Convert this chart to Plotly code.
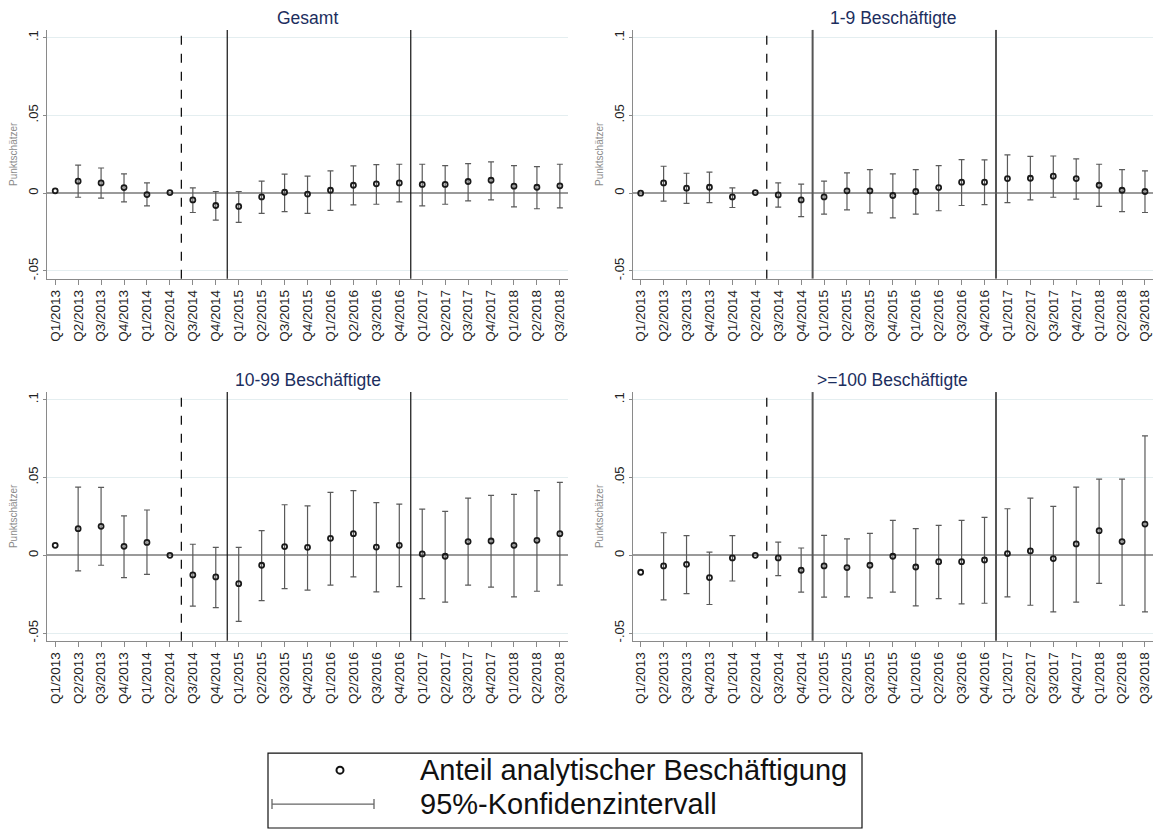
import plotly.graph_objects as go

quarters = ["Q1/2013", "Q2/2013", "Q3/2013", "Q4/2013",
            "Q1/2014", "Q2/2014", "Q3/2014", "Q4/2014",
            "Q1/2015", "Q2/2015", "Q3/2015", "Q4/2015",
            "Q1/2016", "Q2/2016", "Q3/2016", "Q4/2016",
            "Q1/2017", "Q2/2017", "Q3/2017", "Q4/2017",
            "Q1/2018", "Q2/2018", "Q3/2018"]

titles = ["Gesamt", "1-9 Beschäftigte", "10-99 Beschäftigte", ">=100 Beschäftigte"]

# Gesamt
est_gesamt = [0.0015, 0.0077, 0.0066, 0.0036, -0.0009, 0.0004, -0.0043, -0.0079, -0.0085, -0.0024,
              0.0006, -0.0006, 0.0019, 0.0051, 0.0060, 0.0066, 0.0056, 0.0056, 0.0075, 0.0083,
              0.0045, 0.0038, 0.0047]
hi_gesamt = [None, 0.0180, 0.0162, 0.0124, 0.0066, None, 0.0034, 0.0011, 0.0011, 0.0077,
             0.0122, 0.0109, 0.0143, 0.0175, 0.0184, 0.0186, 0.0186, 0.0177, 0.0190, 0.0201,
             0.0177, 0.0171, 0.0186]
lo_gesamt = [None, -0.0026, -0.0032, -0.0056, -0.0081, None, -0.0124, -0.0173, -0.0188, -0.0130,
             -0.0118, -0.0130, -0.0111, -0.0075, -0.0071, -0.0056, -0.0081, -0.0071, -0.0049, -0.0043,
             -0.0088, -0.0100, -0.0094]

# 1-9 Beschäftigte
est_1_9 = [0.0000, 0.0066, 0.0032, 0.0038, -0.0024, 0.0004, -0.0011, -0.0043, -0.0024, 0.0015,
           0.0015, -0.0015, 0.0011, 0.0036, 0.0071, 0.0071, 0.0094, 0.0096, 0.0109, 0.0094,
           0.0051, 0.0019, 0.0011]
hi_1_9 = [None, 0.0173, 0.0128, 0.0135, 0.0034, None, 0.0066, 0.0058, 0.0077, 0.0130,
          0.0152, 0.0124, 0.0152, 0.0177, 0.0216, 0.0214, 0.0246, 0.0237, 0.0239, 0.0220,
          0.0186, 0.0152, 0.0143]
lo_1_9 = [None, -0.0051, -0.0066, -0.0060, -0.0092, None, -0.0090, -0.0150, -0.0135, -0.0107,
          -0.0126, -0.0158, -0.0135, -0.0113, -0.0079, -0.0073, -0.0060, -0.0043, -0.0026, -0.0038,
          -0.0085, -0.0118, -0.0124]

# 10-99 Beschäftigte
est_10_99 = [0.0064, 0.0171, 0.0186, 0.0058, 0.0083, 0.0000, -0.0126, -0.0139, -0.0182, -0.0064,
             0.0056, 0.0051, 0.0109, 0.0139, 0.0053, 0.0064, 0.0009, -0.0006, 0.0088, 0.0092,
             0.0064, 0.0096, 0.0139]
hi_10_99 = [None, 0.0438, 0.0436, 0.0254, 0.0291, None, 0.0071, 0.0051, 0.0051, 0.0158,
            0.0325, 0.0318, 0.0404, 0.0415, 0.0338, 0.0329, 0.0297, 0.0282, 0.0368, 0.0385,
            0.0391, 0.0415, 0.0468]
lo_10_99 = [None, -0.0100, -0.0064, -0.0143, -0.0122, None, -0.0327, -0.0336, -0.0425, -0.0291,
            -0.0214, -0.0224, -0.0192, -0.0139, -0.0235, -0.0201, -0.0278, -0.0301, -0.0192, -0.0205,
            -0.0267, -0.0231, -0.0192]

# >=100 Beschäftigte
est_100 = [-0.0109, -0.0068, -0.0058, -0.0143, -0.0017, 0.0000, -0.0017, -0.0096, -0.0068, -0.0079,
           -0.0064, -0.0006, -0.0075, -0.0041, -0.0041, -0.0030, 0.0011, 0.0028, -0.0021, 0.0073,
           0.0158, 0.0088, 0.0201]
hi_100 = [None, 0.0145, 0.0126, 0.0021, 0.0126, None, 0.0085, 0.0047, 0.0128, 0.0105,
          0.0141, 0.0224, 0.0171, 0.0192, 0.0224, 0.0244, 0.0299, 0.0368, 0.0314, 0.0438,
          0.0489, 0.0489, 0.0767]
lo_100 = [None, -0.0286, -0.0246, -0.0316, -0.0165, None, -0.0130, -0.0237, -0.0269, -0.0267,
          -0.0274, -0.0237, -0.0325, -0.0278, -0.0312, -0.0308, -0.0267, -0.0321, -0.0363, -0.0301,
          -0.0180, -0.0321, -0.0363]

panels = [(est_gesamt, lo_gesamt, hi_gesamt),
          (est_1_9, lo_1_9, hi_1_9),
          (est_10_99, lo_10_99, hi_10_99),
          (est_100, lo_100, hi_100)]

ytick_vals = [-0.05, 0, 0.05, 0.1]
ytick_text = ["-.05", "0", ".05", ".1"]
dashed_line_pos = [5.5]
solid_line_pos = [7.5, 15.5]
legend_labels = ["Anteil analytischer Beschäftigung", "95%-Konfidenzintervall"]

W, H = 1153, 831
FONT = "Arial, Liberation Sans, sans-serif"

# plot areas in pixels (left, right, top, bottom)
areas = [(47.4, 567.9, 30, 279.3), (632.9, 1153, 30, 279.3),
         (47.4, 567.9, 393, 642.3), (632.9, 1153, 393, 642.3)]

fig = go.Figure()
layout = dict(width=W, height=H, margin=dict(l=0, r=0, t=0, b=0),
              paper_bgcolor="white", plot_bgcolor="white", showlegend=False,
              font=dict(family=FONT, color="#222"))
shapes = []
annotations = []

for i, ((est, lo, hi), (l, r, t, b)) in enumerate(zip(panels, areas)):
    n = i + 1
    xa = "x" if n == 1 else f"x{n}"
    ya = "y" if n == 1 else f"y{n}"
    xk = "xaxis" if n == 1 else f"xaxis{n}"
    yk = "yaxis" if n == 1 else f"yaxis{n}"
    right_side = (i % 2 == 1)

    # CI traces (only where CI exists)
    cx = [q for q, h in zip(quarters, hi) if h is not None]
    cy = [e for e, h in zip(est, hi) if h is not None]
    cup = [h - e for e, h in zip(est, hi) if h is not None]
    cdn = [e - lo_ for e, lo_, h in zip(est, lo, hi) if h is not None]
    fig.add_trace(go.Scatter(x=cx, y=cy, mode="markers", xaxis=xa, yaxis=ya,
                             marker=dict(size=1, color="rgba(0,0,0,0)"),
                             error_y=dict(type="data", symmetric=False, array=cup, arrayminus=cdn,
                                          color="#5a5a5a", thickness=1.2, width=3),
                             hoverinfo="skip"))
    fig.add_trace(go.Scatter(x=quarters, y=est, mode="markers", xaxis=xa, yaxis=ya,
                             marker=dict(symbol="circle-open", size=5, color="#1a1a1a",
                                         line=dict(width=1.8, color="#1a1a1a"))))

    layout[xk] = dict(domain=[l / W, r / W], anchor=ya, type="category",
                      categoryorder="array", categoryarray=quarters,
                      range=[-0.34, 22.35], showgrid=False, zeroline=False,
                      showline=True, linecolor="#8a8a8a", linewidth=1,
                      ticks="outside", ticklen=5, tickcolor="#8a8a8a",
                      tickangle=-90, tickfont=dict(size=13.5, color="#222", family=FONT))
    layout[yk] = dict(domain=[1 - b / H, 1 - t / H], anchor=xa,
                      range=[-0.0549, 0.1049], tickvals=ytick_vals, ticktext=ytick_text,
                      showgrid=True, gridcolor="#e4eef0", gridwidth=1,
                      zeroline=True, zerolinecolor="#9a9a9a", zerolinewidth=1.5,
                      showline=True, linecolor="#8a8a8a", linewidth=1,
                      ticks="outside", ticklen=3, tickcolor="#8a8a8a",
                      tickangle=-90, tickfont=dict(size=13, color="#222", family=FONT),
                      title=dict(text="Punktschätzer", font=dict(size=10, color="#8c8c8c", family=FONT),
                                 standoff=6))

    vcol = "#555555" if right_side else "#111111"
    vw = 2 if right_side else 1.2
    for xv in dashed_line_pos:
        shapes.append(dict(type="line", xref=xa, yref=f"{ya} domain", x0=xv, x1=xv, y0=0, y1=1,
                           line=dict(color="#111111", width=1.3, dash="dash")))
    for xv in solid_line_pos:
        shapes.append(dict(type="line", xref=xa, yref=f"{ya} domain", x0=xv, x1=xv, y0=0, y1=1,
                           line=dict(color=vcol, width=vw)))

    title_y = 18 if i < 2 else 381
    annotations.append(dict(text=titles[i], x=(l + r) / 2 / W, y=1 - title_y / H,
                            xref="paper", yref="paper", xanchor="center", yanchor="middle",
                            showarrow=False, font=dict(size=17.5, color="#1c2e5e", family=FONT)))

# Legend drawn on its own helper axes
lx0, lx1, ly0, ly1 = 268, 862, 755, 830
layout["xaxis5"] = dict(domain=[lx0 / W, lx1 / W], anchor="y5", range=[0, lx1 - lx0],
                        visible=False, fixedrange=True)
layout["yaxis5"] = dict(domain=[1 - ly1 / H, 1 - ly0 / H], anchor="x5", range=[ly1 - ly0, 0],
                        visible=False, fixedrange=True)
fig.add_trace(go.Scatter(x=[72], y=[17], xaxis="x5", yaxis="y5", mode="markers",
                         marker=dict(symbol="circle-open", size=7, color="#111",
                                     line=dict(width=2, color="#111")), hoverinfo="skip"))
fig.add_trace(go.Scatter(x=[55], y=[51], xaxis="x5", yaxis="y5", mode="markers",
                         marker=dict(size=1, color="rgba(0,0,0,0)"),
                         error_x=dict(type="constant", value=51, color="#666", thickness=1.3, width=5),
                         hoverinfo="skip"))
shapes.append(dict(type="rect", xref="x5 domain", yref="y5 domain", x0=0, x1=1, y0=0, y1=1,
                   line=dict(color="#111", width=1.2)))
for k, (lab, yy) in enumerate(zip(legend_labels, [17, 51])):
    annotations.append(dict(text=lab, x=150, y=yy, xref="x5", yref="y5", xanchor="left",
                            yanchor="middle", showarrow=False,
                            font=dict(size=29, color="#111", family=FONT)))

layout["shapes"] = shapes
layout["annotations"] = annotations
fig.update_layout(**layout)
fig.write_html("out.html")
